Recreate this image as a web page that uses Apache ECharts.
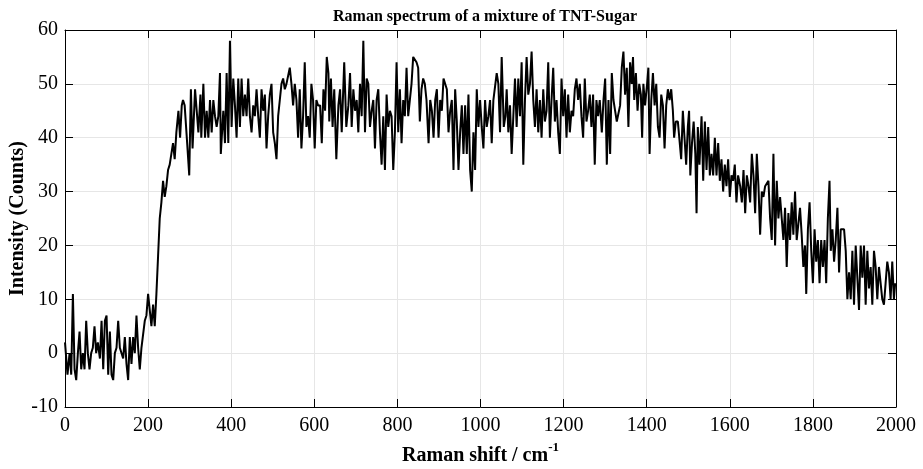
<!DOCTYPE html>
<html>
<head>
<meta charset="utf-8">
<script src="https://cdn.jsdelivr.net/npm/echarts@6/dist/echarts.min.js"></script>
<style>
  html, body { margin: 0; padding: 0; background: #fff; }
  #ramanChart { width: 923px; height: 469px; }
</style>
</head>
<body>
<div id="ramanChart"></div>
<script>
// Raman shift (cm-1)
let ramanShift = [
  0, 6, 11, 15, 19, 23, 27, 31, 35, 39, 43, 47, 51, 55, 59, 63, 67, 71, 75, 79,
  84, 88, 92, 96, 100, 104, 108, 112, 116, 120, 124, 128, 132, 136, 140, 144, 148, 152, 156, 160,
  164, 168, 172, 176, 180, 184, 188, 192, 196, 200, 204, 208, 212, 216, 220, 224, 228, 232, 236, 240,
  244, 248, 252, 256, 260, 264, 268,
  273, 277, 281, 284, 288, 294, 299, 303, 307, 313, 317, 321, 326, 328, 333, 337, 341, 345, 349, 353,
  357, 361, 365, 369, 373, 375, 381, 385, 389, 393, 397, 401, 405, 409, 413, 417, 421, 425, 429, 433,
  437, 441, 445, 449, 453, 457, 461, 465, 469, 473, 477, 481, 485, 489, 493, 497, 501, 505, 509, 513,
  517, 521, 525, 529, 533, 537, 541, 545, 549, 553, 557, 561, 565, 569, 573, 577, 581, 585, 589, 593,
  597, 601, 605, 609,
  614, 618, 622, 626, 630, 634, 636, 640, 644, 648, 653, 658, 662, 666, 672, 677, 682, 686, 690, 694,
  698, 702, 706, 710, 714, 718, 722, 726, 730, 734, 738, 742, 746, 750, 754, 758, 762, 766, 770, 774,
  778, 782, 786, 790, 794, 798, 802, 806, 810, 814, 818, 822, 826, 830, 834, 838, 842, 846, 850, 854,
  858, 862, 866, 870, 875, 879, 883, 887, 891, 895, 899, 903, 907, 911, 915, 919, 923, 927, 931, 935,
  939, 943, 947,
  951, 955, 959, 963, 967, 971, 975, 979, 983, 987, 991, 995, 999, 1003, 1007, 1011, 1015, 1019, 1023, 1027,
  1031, 1035, 1039, 1043, 1047, 1051, 1056, 1060, 1063, 1067, 1071, 1075, 1079, 1083, 1087, 1091, 1095, 1099, 1103, 1107,
  1111, 1115, 1119, 1123, 1127, 1131, 1135, 1139, 1143, 1147, 1151, 1155, 1159, 1163, 1167, 1171, 1175, 1179, 1183, 1187,
  1191, 1195, 1199, 1203, 1207, 1211, 1215, 1219, 1223, 1227, 1231, 1235, 1239, 1243, 1247, 1251, 1255, 1259, 1263, 1267,
  1271, 1275, 1279, 1283, 1287,
  1292, 1296, 1300, 1304, 1308, 1312, 1316, 1320, 1324, 1328, 1332, 1336, 1340, 1344, 1348, 1352, 1356, 1360, 1364, 1367,
  1370, 1374, 1378, 1382, 1386, 1389, 1392, 1396, 1401, 1404, 1407, 1411, 1415, 1419, 1423, 1427, 1431, 1435, 1439, 1443,
  1447, 1451, 1455, 1459, 1463, 1466, 1470, 1475, 1479, 1483, 1487, 1491, 1495, 1499, 1502, 1505, 1509, 1513, 1517, 1520,
  1523, 1527, 1532, 1536, 1540, 1544, 1548, 1552, 1556, 1560, 1564, 1568, 1572, 1576,
  1580, 1584, 1588, 1592, 1596, 1600, 1604, 1608, 1612, 1616, 1620,
  1625, 1629, 1633, 1637, 1641, 1645, 1649, 1653, 1657, 1661, 1665, 1669, 1673, 1677, 1681, 1685, 1689, 1693, 1697, 1701,
  1705, 1709, 1713, 1717, 1721, 1725, 1729, 1733, 1737, 1741, 1745, 1749, 1753, 1757, 1761, 1765, 1769, 1773, 1777, 1781,
  1784, 1788, 1792, 1796, 1800, 1804, 1808, 1812, 1816, 1820, 1824, 1828, 1832, 1836, 1840, 1843, 1847, 1851, 1855, 1859,
  1863, 1867, 1871, 1875, 1879, 1883, 1887, 1891, 1895, 1899, 1903, 1907, 1911, 1915, 1919, 1923, 1927, 1931, 1935, 1939,
  1943, 1947, 1951, 1955, 1959, 1963, 1967, 1971, 1975, 1979, 1983, 1987, 1991, 1995, 1998
];

// intensity (counts), same order as ramanShift
let intensity = [
  2, -4, 0, -4, 11, -3, -5, 0, 4, -3, 0, -3, 6, 0, -3, 0, 1, 5, 0, 2,
  -1, 6, -3, 6, 7, -4, 4, -4, -5, 0, 1, 6, 1, 1, -1, 3, -2, -5, 3, -2,
  3, 0, 7, 1, -3, 1, 1, 6, 7, 11, 8, 5, 9, 5, 11, 18, 25, 28, 32, 29,
  31, 34, 35, 37, 39, 36, 41,
  45, 40, 46, 47, 46, 39, 33, 49, 38, 49, 45, 41, 48, 40, 50, 40, 45, 40, 47, 41,
  47, 44, 42, 44, 52, 37, 45, 39, 52, 39, 58, 42, 51, 46, 40, 51, 42, 51, 44, 48,
  44, 51, 44, 41, 46, 44, 49, 44, 40, 49, 45, 48, 38, 44, 48, 50, 41, 39, 36, 44,
  47, 50, 51, 49, 50, 50, 53, 50, 46, 50, 47, 40, 49, 38, 44, 54, 42, 44, 40, 50,
  47, 38, 47, 46,
  46, 39, 49, 45, 55, 52, 43, 51, 42, 49, 36, 46, 49, 41, 54, 42, 46, 52, 42, 49,
  45, 47, 41, 50, 44, 58, 41, 51, 50, 42, 45, 47, 38, 47, 49, 41, 35, 44, 34, 48,
  42, 45, 44, 34, 41, 54, 41, 49, 39, 47, 44, 53, 44, 47, 50, 55, 55, 54, 53, 43,
  49, 51, 50, 47, 39, 47, 45, 40, 47, 49, 40, 47, 45, 51, 51, 49, 41, 45, 47, 34,
  49, 43, 34,
  41, 46, 37, 46, 37, 48, 34, 30, 41, 34, 49, 42, 47, 42, 38, 47, 42, 44, 47, 39,
  47, 47, 52, 50, 41, 55, 42, 44, 49, 41, 46, 37, 44, 51, 42, 51, 44, 54, 35, 47,
  55, 48, 50, 56, 47, 42, 49, 41, 47, 40, 49, 43, 45, 54, 40, 47, 53, 43, 47, 41,
  37, 51, 44, 49, 40, 48, 41, 45, 44, 49, 51, 47, 50, 44, 40, 51, 43, 45, 48, 42,
  48, 35, 47, 44, 47,
  41, 47, 51, 35, 47, 37, 52, 47, 45, 43, 43, 46, 53, 56, 48, 53, 42, 54, 50, 55,
  47, 52, 45, 50, 48, 40, 50, 46, 50, 53, 37, 47, 52, 46, 50, 42, 40, 48, 46, 38,
  46, 49, 47, 49, 45, 40, 43, 43, 43, 36, 45, 40, 35, 42, 45, 33, 39, 43, 37, 26,
  42, 35, 44, 32, 43, 34, 42, 33, 37, 33, 40, 33, 39, 32,
  36, 30, 35, 31, 36, 29, 33, 32, 35, 28, 33,
  31, 28, 34, 26, 33, 31, 28, 37, 33, 26, 37, 31, 22, 30, 29, 31, 31, 32, 25, 21,
  37, 20, 32, 25, 29, 25, 21, 27, 16, 26, 21, 28, 22, 30, 21, 24, 27, 22, 16, 20,
  11, 23, 28, 19, 13, 23, 17, 21, 13, 21, 16, 21, 13, 25, 32, 19, 23, 17, 21, 27,
  15, 23, 23, 23, 19, 10, 15, 10, 19, 9, 20, 14, 8, 20, 14, 20, 9, 19, 12, 16,
  9, 19, 16, 10, 16, 16, 10, 9, 13, 17, 15, 10, 17, 10, 13
];

let xTicks = { min: 0, max: 2000, step: 200 };
let yTicks = { min: -10, max: 60, step: 10 };

let serif = '"Liberation Serif", "Times New Roman", serif';
let gridColor = '#e6e6e6';

let points = ramanShift.map((x, i) => [x, intensity[i]]);

function frameAxis(extra) {
  return Object.assign({
    type: 'value',
    axisLine: { show: true, onZero: false, lineStyle: { color: '#000', width: 1 } },
    axisTick: { show: true, inside: true, length: 8, lineStyle: { color: '#000' } },
    axisLabel: { show: false },
    splitLine: { show: false }
  }, extra);
}

let chart = echarts.init(document.getElementById('ramanChart'));
chart.setOption({
  animation: false,
  backgroundColor: '#fff',
  title: {
    text: 'Raman spectrum of a mixture of TNT-Sugar',
    left: 480,
    textAlign: 'center',
    top: 4,
    textStyle: { fontFamily: serif, fontSize: 16, fontWeight: 'bold', color: '#000' }
  },
  grid: { left: 65, right: 27, top: 30, bottom: 62, containLabel: false, outerBoundsMode: 'none' },
  xAxis: [
    frameAxis({
      min: xTicks.min, max: xTicks.max, interval: xTicks.step,
      position: 'bottom',
      axisLabel: { show: true, fontFamily: serif, fontSize: 20, color: '#000', margin: 9, formatter: v => String(v) },
      splitLine: { show: true, lineStyle: { color: gridColor, width: 1 } },
      name: '{a|Raman shift / cm}{b|-1}',
      nameLocation: 'middle',
      nameGap: 34,
      nameMoveOverlap: false,
      nameTextStyle: {
        rich: {
          a: { fontFamily: serif, fontSize: 20, fontWeight: 'bold', color: '#000', lineHeight: 30 },
          b: { fontFamily: serif, fontSize: 13, fontWeight: 'bold', color: '#000', lineHeight: 8, verticalAlign: 'top' }
        }
      }
    }),
    frameAxis({ min: xTicks.min, max: xTicks.max, interval: xTicks.step, position: 'top' })
  ],
  yAxis: [
    frameAxis({
      min: yTicks.min, max: yTicks.max, interval: yTicks.step,
      position: 'left',
      axisLabel: { show: true, fontFamily: serif, fontSize: 20, color: '#000', margin: 7, formatter: v => String(v) },
      splitLine: { show: true, lineStyle: { color: gridColor, width: 1 } },
      name: 'Intensity (Counts)',
      nameLocation: 'middle',
      nameGap: 37,
      nameMoveOverlap: false,
      nameTextStyle: { fontFamily: serif, fontSize: 20, fontWeight: 'bold', color: '#000' }
    }),
    frameAxis({ min: yTicks.min, max: yTicks.max, interval: yTicks.step, position: 'right' })
  ],
  series: [{
    type: 'line',
    xAxisIndex: 0,
    yAxisIndex: 0,
    data: points,
    showSymbol: false,
    symbol: 'none',
    lineStyle: { color: '#000', width: 2 },
    z: 3
  }]
});
</script>
</body>
</html>
